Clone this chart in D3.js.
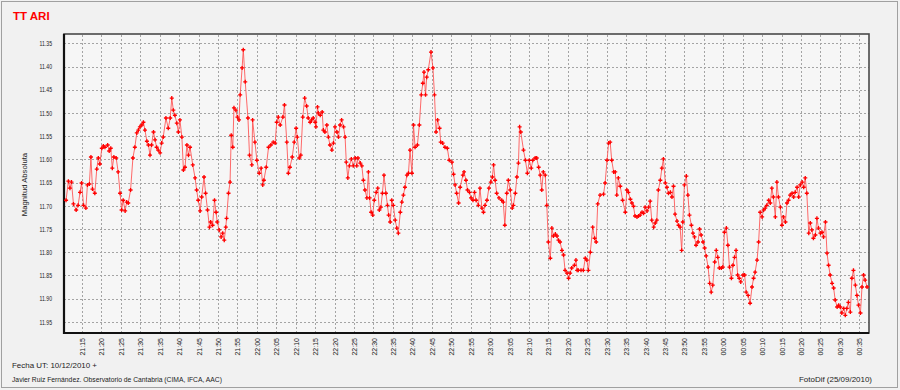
<!DOCTYPE html>
<html>
<head>
<meta charset="utf-8">
<script src="https://cdnjs.cloudflare.com/ajax/libs/d3/7.8.5/d3.min.js"></script>
<style>
  body { margin: 0; background: #f1f1f1; }
  svg { display: block; font-family: "Liberation Sans", Arial, sans-serif; }
  .grid line { stroke: #a4a4a4; stroke-dasharray: 2,2; shape-rendering: crispEdges; }
  .grid .domain { display: none; }
</style>
</head>
<body>
<div id="chart-holder"></div>
<script>
// DATA
// time of each measurement, minutes after 21:00 UT (10/12/2010)
var minutes = [
  10.9, 11.5, 11.9, 12.3, 12.8, 13.5, 14.0, 14.5, 14.9, 15.4,
  16.0, 16.4, 16.9, 17.3, 17.7, 18.3, 18.8, 19.2, 19.6, 20.1,
  20.5, 20.9, 21.6, 22.0, 22.4, 22.8, 23.2, 23.8, 24.3, 24.8,
  25.2, 25.6, 26.1, 26.5, 26.9, 27.5, 28.1, 28.6, 29.1, 29.5,
  29.9, 30.4, 30.8, 31.2, 31.7, 32.1, 32.5, 32.9, 33.4, 33.8,
  34.2, 34.6, 35.1, 35.5, 35.9, 36.6, 37.2, 37.7, 38.1, 38.5,
  38.9, 39.4, 39.8, 40.2, 40.7, 41.1, 41.5, 42.0, 42.4, 42.8,
  43.5, 44.1, 44.5, 44.9, 45.4, 45.8, 46.4, 46.8, 47.3, 47.8,
  48.1, 48.6, 49.1, 49.5, 49.8, 50.3, 50.8, 51.2, 51.6, 52.0,
  52.2, 52.7, 53.1, 53.4, 53.8, 54.1, 54.6, 55.0, 55.4, 55.7,
  56.2, 56.5, 57.0, 57.7, 58.1, 58.7, 58.9, 59.5, 60.0, 60.6,
  61.1, 61.5, 61.8, 62.4, 63.0, 63.6, 64.2, 64.7, 65.1, 65.5,
  66.0, 66.7, 67.1, 67.7, 68.1, 68.5, 69.1, 69.6, 70.1, 70.4,
  70.9, 71.3, 71.8, 72.3, 72.8, 73.2, 73.7, 74.1, 74.5, 75.0,
  75.2, 75.6, 75.8, 76.3, 76.8, 77.1, 77.5, 78.0, 78.4, 78.8,
  79.3, 79.7, 80.1, 80.6, 81.0, 81.4, 81.8, 82.3, 82.7, 83.0,
  83.4, 83.8, 84.3, 84.8, 85.3, 85.7, 86.0, 86.6, 87.0, 87.4,
  87.8, 88.3, 88.7, 89.0, 89.4, 89.8, 90.2, 90.7, 91.1, 91.5,
  91.9, 92.3, 92.7, 93.2, 93.6, 93.9, 94.3, 94.7, 95.1, 95.6,
  96.0, 96.4, 96.9, 97.3, 97.7, 98.1, 98.6, 99.0, 99.4, 99.9,
  100.3, 100.7, 101.3, 101.8, 102.3, 102.7, 103.0, 103.4, 103.7, 104.1,
  104.8, 105.3, 105.7, 106.1, 106.5, 107.0, 107.3, 107.8, 108.4, 109.0,
  109.5, 110.2, 110.6, 111.0, 111.4, 111.9, 112.3, 113.0, 113.3, 113.8,
  114.2, 114.7, 115.1, 115.6, 116.0, 116.4, 117.0, 117.4, 117.9, 118.3,
  118.7, 119.2, 119.7, 120.2, 120.6, 120.9, 121.3, 121.7, 122.3, 123.0,
  123.4, 123.8, 124.3, 124.7, 125.2, 125.7, 126.0, 126.5, 126.9, 127.3,
  127.6, 127.9, 128.6, 129.1, 129.6, 130.1, 130.6, 131.0, 131.6, 132.0,
  132.5, 132.9, 133.3, 133.7, 134.2, 134.6, 135.0, 135.5, 135.9, 136.3,
  136.8, 137.2, 137.6, 138.0, 138.5, 138.9, 139.3, 139.8, 140.2, 140.6,
  141.0, 141.7, 142.1, 142.4, 142.7, 143.4, 144.0, 144.5, 144.9, 145.3,
  145.8, 146.4, 146.9, 147.3, 147.7, 148.3, 149.2, 149.6, 150.1, 150.5,
  150.9, 151.3, 151.8, 152.2, 152.6, 153.0, 153.5, 154.1, 154.8, 155.2,
  155.6, 156.1, 156.5, 156.9, 157.3, 157.8, 158.2, 158.6, 159.1, 159.5,
  159.9, 160.4, 160.8, 161.2, 161.6, 162.1, 162.5, 162.9, 163.3, 163.8,
  164.2, 164.6, 165.1, 165.5, 165.9, 166.4, 166.8, 167.2, 167.6, 168.1,
  168.5, 168.9, 169.3, 169.6, 170.0, 170.5, 170.9, 171.3, 171.8, 172.2,
  172.6, 173.0, 173.5, 173.9, 174.3, 174.8, 175.2, 175.6, 176.1, 176.5,
  176.9, 177.3, 177.8, 178.2, 178.6, 179.0, 179.5, 179.9, 180.3, 180.8,
  181.2, 181.6, 182.1, 182.5, 182.9, 183.3, 183.7, 184.1, 184.5, 185.1,
  185.5, 185.9, 186.4, 186.9, 187.4, 187.8, 188.2, 188.7, 189.1, 189.5,
  190.0, 190.4, 190.8, 191.2, 191.7, 192.1, 192.5, 192.9, 193.4, 193.8,
  194.2, 194.7, 195.1, 195.5, 196.0, 196.4, 196.8, 197.2, 197.7, 198.1,
  198.5, 199.0, 199.4, 199.8, 200.3, 200.7, 201.1, 201.5, 202.0, 202.4,
  202.8, 203.2, 203.7, 204.1, 204.5, 205.0, 205.4, 205.8, 206.3, 206.7,
  207.1, 207.5, 208.0, 208.4, 208.8, 209.3, 209.7, 210.1, 210.5, 211.0,
  211.4, 211.8, 212.2, 212.7, 213.1, 213.5, 214.0, 214.4, 214.8, 215.3,
  215.7, 216.1, 216.5, 217.0
];

var magnitudes = [
  11.688, 11.647, 11.662, 11.649, 11.696, 11.709, 11.699, 11.671, 11.651, 11.699,
  11.705, 11.655, 11.653, 11.595, 11.664, 11.673, 11.621, 11.597, 11.610, 11.576,
  11.571, 11.574, 11.569, 11.582, 11.576, 11.619, 11.595, 11.597, 11.627, 11.673,
  11.709, 11.688, 11.711, 11.692, 11.694, 11.666, 11.597, 11.574, 11.543, 11.537,
  11.530, 11.526, 11.520, 11.537, 11.561, 11.569, 11.591, 11.569, 11.541, 11.558,
  11.574, 11.580, 11.586, 11.565, 11.552, 11.511, 11.533, 11.511, 11.468, 11.494,
  11.505, 11.522, 11.541, 11.515, 11.552, 11.623, 11.617, 11.569, 11.591, 11.574,
  11.612, 11.640, 11.666, 11.688, 11.711, 11.681, 11.638, 11.673, 11.709, 11.746,
  11.735, 11.742, 11.688, 11.714, 11.735, 11.752, 11.767, 11.759, 11.774, 11.746,
  11.727, 11.673, 11.649, 11.548, 11.574, 11.489, 11.494, 11.509, 11.515, 11.461,
  11.403, 11.364, 11.433, 11.511, 11.591, 11.612, 11.515, 11.563, 11.602, 11.630,
  11.619, 11.655, 11.645, 11.617, 11.574, 11.569, 11.563, 11.565, 11.520, 11.509,
  11.526, 11.509, 11.483, 11.563, 11.630, 11.617, 11.595, 11.563, 11.533, 11.552,
  11.597, 11.591, 11.509, 11.468, 11.485, 11.511, 11.520, 11.515, 11.511, 11.520,
  11.530, 11.487, 11.500, 11.505, 11.498, 11.537, 11.541, 11.526, 11.552, 11.569,
  11.580, 11.565, 11.530, 11.541, 11.552, 11.526, 11.515, 11.530, 11.552, 11.606,
  11.640, 11.614, 11.599, 11.614, 11.597, 11.614, 11.597, 11.608, 11.614, 11.645,
  11.666, 11.683, 11.627, 11.683, 11.714, 11.720, 11.688, 11.671, 11.662, 11.709,
  11.703, 11.673, 11.634, 11.673, 11.699, 11.720, 11.735, 11.688, 11.699, 11.731,
  11.748, 11.759, 11.714, 11.692, 11.677, 11.660, 11.634, 11.630, 11.580, 11.630,
  11.526, 11.574, 11.569, 11.526, 11.461, 11.436, 11.412, 11.461, 11.423, 11.407,
  11.369, 11.403, 11.461, 11.541, 11.515, 11.533, 11.563, 11.565, 11.574, 11.576,
  11.602, 11.606, 11.632, 11.655, 11.673, 11.694, 11.660, 11.634, 11.627, 11.645,
  11.666, 11.671, 11.683, 11.688, 11.671, 11.688, 11.699, 11.662, 11.705, 11.714,
  11.699, 11.688, 11.662, 11.649, 11.638, 11.612, 11.645, 11.673, 11.683, 11.688,
  11.692, 11.742, 11.673, 11.645, 11.666, 11.705, 11.699, 11.673, 11.638, 11.608,
  11.530, 11.541, 11.580, 11.602, 11.630, 11.602, 11.619, 11.602, 11.597, 11.597,
  11.617, 11.634, 11.666, 11.627, 11.634, 11.699, 11.778, 11.813, 11.748, 11.765,
  11.761, 11.765, 11.774, 11.778, 11.796, 11.806, 11.839, 11.845, 11.856, 11.845,
  11.834, 11.828, 11.817, 11.839, 11.839, 11.839, 11.839, 11.813, 11.817, 11.839,
  11.800, 11.746, 11.770, 11.778, 11.696, 11.677, 11.675, 11.651, 11.602, 11.565,
  11.563, 11.602, 11.627, 11.627, 11.677, 11.640, 11.658, 11.688, 11.714, 11.666,
  11.671, 11.686, 11.694, 11.701, 11.722, 11.724, 11.722, 11.720, 11.714, 11.716,
  11.703, 11.711, 11.703, 11.690, 11.731, 11.746, 11.737, 11.731, 11.666, 11.645,
  11.619, 11.599, 11.651, 11.660, 11.673, 11.671, 11.681, 11.658, 11.718, 11.733,
  11.742, 11.746, 11.796, 11.735, 11.655, 11.636, 11.677, 11.720, 11.742, 11.759,
  11.767, 11.785, 11.778, 11.750, 11.763, 11.778, 11.791, 11.808, 11.832, 11.867,
  11.886, 11.871, 11.821, 11.796, 11.811, 11.834, 11.834, 11.832, 11.757, 11.748,
  11.785, 11.832, 11.856, 11.828, 11.811, 11.796, 11.849, 11.856, 11.864, 11.849,
  11.849, 11.886, 11.893, 11.910, 11.875, 11.856, 11.843, 11.817, 11.778, 11.714,
  11.724, 11.709, 11.705, 11.699, 11.688, 11.694, 11.662, 11.681, 11.724, 11.649,
  11.681, 11.703, 11.742, 11.724, 11.735, 11.694, 11.688, 11.677, 11.673, 11.681,
  11.671, 11.660, 11.681, 11.655, 11.649, 11.660, 11.640, 11.673, 11.759, 11.737,
  11.752, 11.770, 11.763, 11.727, 11.748, 11.759, 11.757, 11.767, 11.735, 11.802,
  11.828, 11.849, 11.867, 11.877, 11.903, 11.918, 11.914, 11.918, 11.931, 11.921,
  11.936, 11.921, 11.908, 11.929, 11.856, 11.839, 11.871, 11.893, 11.914, 11.931,
  11.875, 11.849, 11.860, 11.875
];

var magTicks = [11.35, 11.40, 11.45, 11.50, 11.55, 11.60, 11.65, 11.70, 11.75, 11.80, 11.85, 11.90, 11.95];

var titleText = "TT ARI";
var yLabel = "Magnitud Absoluta";
var footerLeft = ["Fecha UT: 10/12/2010 +", "Javier Ruiz Fernández. Observatorio de Cantabria (CIMA, IFCA, AAC)"];
var footerRight = "FotoDif (25/09/2010)";

// LAYOUT
var W = 900, H = 390;
var plot = { left: 64, top: 34, right: 869, bottom: 333 };

var base = Date.UTC(2010, 11, 10, 21, 0);
function toDate(m) { return new Date(base + m * 60000); }

var points = minutes.map(function (m, i) {
  return { date: toDate(m), mag: magnitudes[i] };
});

// SCALES
var x = d3
  .scaleUtc()
  .domain([toDate(10.37), toDate(217.5)])
  .range([plot.left, plot.right])
  ;

// magnitudes grow downwards
var y = d3
  .scaleLinear()
  .domain([11.330, 11.974])
  .range([plot.top, plot.bottom])
  ;

var every5 = d3.utcMinute.every(5);

var svg = d3
  .select("#chart-holder")
  .append("svg")
  .attr("width", W)
  .attr("height", H)
  ;

// background + outer frame
svg.append("rect")
  .attr("x", 0).attr("y", 0).attr("width", W).attr("height", H)
  .attr("fill", "#f1f1f1");
svg.append("rect")
  .attr("x", 1.5).attr("y", 1.5).attr("width", W - 4).attr("height", H - 4)
  .attr("fill", "none").attr("stroke", "#a0a0a0");

// plot area
svg.append("rect")
  .attr("x", plot.left).attr("y", plot.top)
  .attr("width", plot.right - plot.left).attr("height", plot.bottom - plot.top)
  .attr("fill", "#f6f6f6");

// GRID
svg.append("g")
  .attr("class", "grid")
  .attr("transform", "translate(0," + plot.bottom + ")")
  .call(d3.axisBottom(x).ticks(every5).tickSize(-(plot.bottom - plot.top)).tickFormat(""));

svg.append("g")
  .attr("class", "grid")
  .attr("transform", "translate(" + plot.left + ",0)")
  .call(d3.axisLeft(y).tickValues(magTicks).tickSize(-(plot.right - plot.left)).tickFormat(""));

// plot border: dark left/bottom, grey top/right
svg.append("rect")
  .attr("x", plot.left).attr("y", plot.top)
  .attr("width", plot.right - plot.left).attr("height", plot.bottom - plot.top)
  .attr("fill", "none").attr("stroke", "#4a4a4a").attr("stroke-width", 1.6);
svg.append("path")
  .attr("d", "M" + plot.left + "," + plot.top + "V" + plot.bottom + "H" + plot.right)
  .attr("fill", "none").attr("stroke", "#111").attr("stroke-width", 2.2);

// AXES LABELS
var xAxis = svg.append("g")
  .attr("transform", "translate(0," + plot.bottom + ")")
  .call(d3.axisBottom(x).ticks(every5).tickSize(0).tickFormat(d3.utcFormat("%H:%M")));
xAxis.select(".domain").remove();
xAxis.selectAll("text")
  .attr("transform", "rotate(-90)")
  .attr("text-anchor", "end")
  .attr("x", -5)
  .attr("y", 0)
  .attr("dy", "0.36em")
  .attr("fill", "#222")
  .style("font-size", "7px");

var yAxis = svg.append("g")
  .attr("transform", "translate(" + plot.left + ",0)")
  .call(d3.axisLeft(y).tickValues(magTicks).tickSize(0).tickFormat(d3.format(".2f")));
yAxis.select(".domain").remove();
yAxis.selectAll("text")
  .attr("x", -12)
  .attr("fill", "#222")
  .attr("textLength", 12.5)
  .attr("lengthAdjust", "spacingAndGlyphs")
  .style("font-size", "7px");

svg.append("text")
  .attr("transform", "translate(27," + ((plot.top + plot.bottom) / 2 + 1) + ") rotate(-90)")
  .attr("text-anchor", "middle")
  .attr("fill", "#222")
  .style("font-size", "7.7px")
  .text(yLabel);

// SERIES
var line = d3
  .line()
  .x(function (d) { return x(d.date); })
  .y(function (d) { return y(d.mag); })
  ;

svg.append("path")
  .datum(points)
  .attr("d", line)
  .attr("fill", "none")
  .attr("stroke", "#ff5050")
  .attr("stroke-width", 1)
  .attr("stroke-opacity", 0.85);

svg.append("g")
  .selectAll("path")
  .data(points)
  .enter()
  .append("path")
  .attr("transform", function (d) { return "translate(" + x(d.date) + "," + y(d.mag) + ")"; })
  .attr("d", d3.symbol().type(d3.symbolCross).size(9))
  .attr("fill", "#ff0000");

// TEXTS
svg.append("text")
  .attr("x", 13).attr("y", 19.5)
  .attr("fill", "#ff0000")
  .style("font-size", "11.5px")
  .style("font-weight", "bold")
  .text(titleText);

svg.append("text")
  .attr("x", 12).attr("y", 367.5)
  .attr("fill", "#222")
  .attr("textLength", 85).attr("lengthAdjust", "spacingAndGlyphs")
  .style("font-size", "7.6px")
  .text(footerLeft[0]);
svg.append("text")
  .attr("x", 12).attr("y", 381.5)
  .attr("fill", "#222")
  .attr("textLength", 210).attr("lengthAdjust", "spacingAndGlyphs")
  .style("font-size", "7.6px")
  .text(footerLeft[1]);
svg.append("text")
  .attr("x", 799).attr("y", 381.5)
  .attr("fill", "#222")
  .attr("textLength", 73).attr("lengthAdjust", "spacingAndGlyphs")
  .style("font-size", "7.6px")
  .text(footerRight);
</script>
</body>
</html>
